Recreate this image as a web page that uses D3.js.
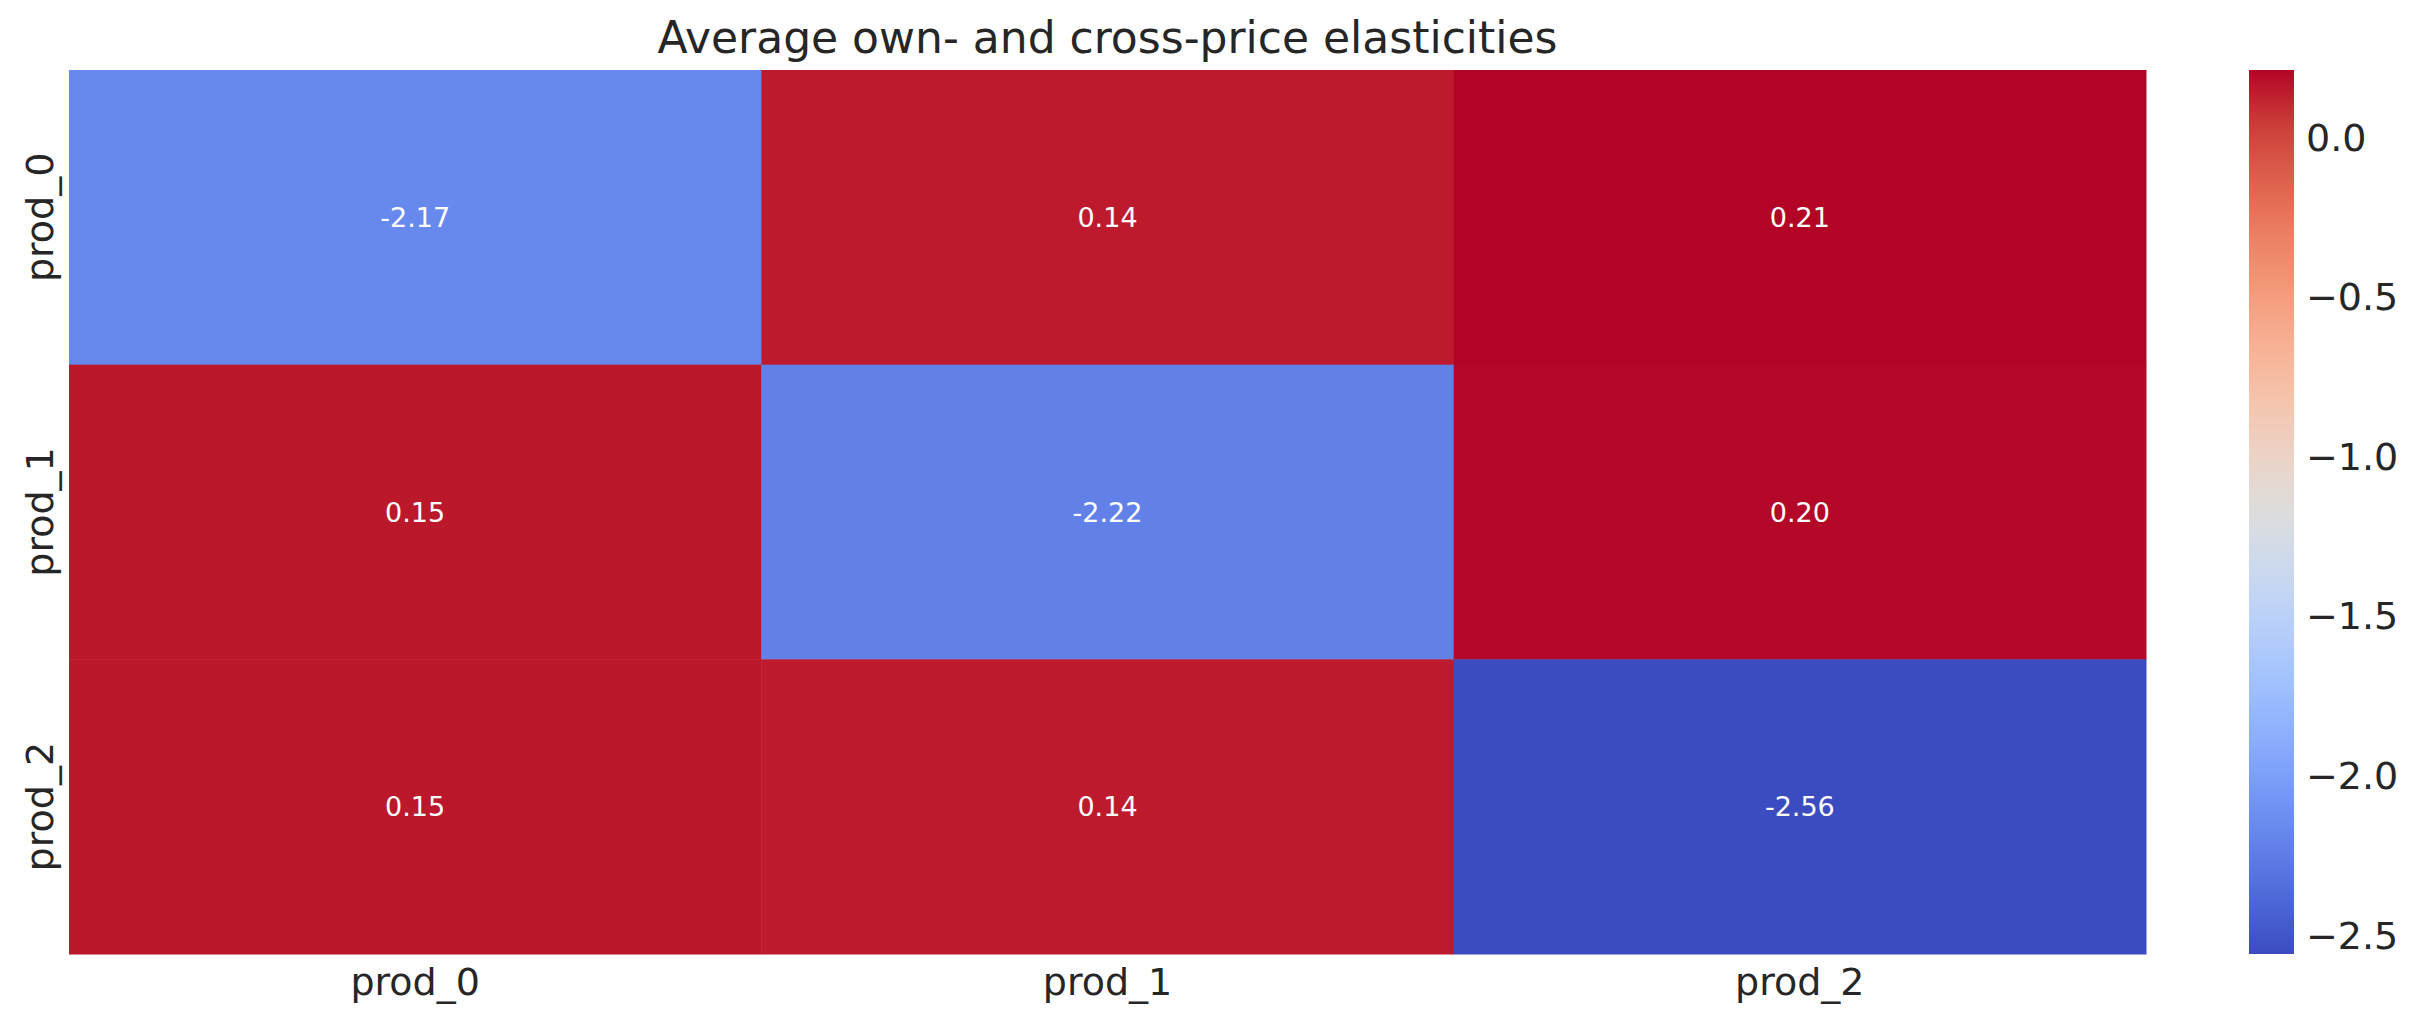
<!DOCTYPE html>
<html>
<head>
<meta charset="utf-8">
<script src="https://cdn.jsdelivr.net/npm/d3@7"></script>
<style>
    body { margin: 0; background: #fff; }
    text { font-family: "DejaVu Sans", sans-serif; }
</style>
</head>
<body>
<svg width="2417" height="1023"></svg>
<script>
// Data
const rows = ['prod_0', 'prod_1', 'prod_2']
const cols = ['prod_0', 'prod_1', 'prod_2']
const prod0 = [-2.17, 0.14, 0.21]
const prod1 = [0.15, -2.22, 0.20]
const prod2 = [0.15, 0.14, -2.56]
const colorbarTicks = [0.0, -0.5, -1.0, -1.5, -2.0, -2.5]
const title = 'Average own- and cross-price elasticities'

// matplotlib coolwarm, sampled every 1/16
const coolwarm = ['#3b4cc0', '#4d68d7', '#6282ea', '#779af7', '#8db0fe', '#a3c2fe',
    '#b8d0f9', '#ccd9ee', '#dddddd', '#ecd3c6', '#f5c4ad', '#f7b194', '#f49a7b',
    '#ec7f63', '#de604d', '#cb3e38', '#b40426']

const matrix = [prod0, prod1, prod2]
const cells = matrix.flatMap((vals, i) => vals.map((v, j) => ({ row: rows[i], col: cols[j], value: v })))

const vmin = d3.min(cells, d => d.value)
const vmax = d3.max(cells, d => d.value)

// Set up
const svg = d3.select('svg')
const plot = { left: 69, right: 2146, top: 70, bottom: 954 }

const x = d3.scaleBand().domain(cols).range([plot.left, plot.right])
const y = d3.scaleBand().domain(rows).range([plot.top, plot.bottom])

const t = d3.scaleLinear().domain([vmin, vmax]).range([0, 1])
const stopPos = coolwarm.map((c, i) => i / (coolwarm.length - 1))
const ramp = d3.scaleLinear().domain(stopPos).range(coolwarm).interpolate(d3.interpolateRgb)
const color = v => ramp(t(v))

// Cells
svg.append('g')
    .selectAll('rect')
    .data(cells)
    .join('rect')
    .attr('x', d => x(d.col))
    .attr('y', d => y(d.row))
    .attr('width', x.bandwidth() + 0.5)
    .attr('height', y.bandwidth() + 0.5)
    .attr('fill', d => color(d.value))

// annotations use a plain hyphen, like matplotlib's text
svg.append('g')
    .selectAll('text')
    .data(cells)
    .join('text')
    .attr('x', d => x(d.col) + x.bandwidth() / 2)
    .attr('y', d => y(d.row) + y.bandwidth() / 2)
    .attr('dy', '0.36em')
    .attr('text-anchor', 'middle')
    .style('font-size', '27px')
    .style('fill', '#fff')
    .text(d => d.value.toFixed(2))

// Axes labels
svg.append('g')
    .selectAll('text')
    .data(cols)
    .join('text')
    .attr('x', d => x(d) + x.bandwidth() / 2)
    .attr('y', 995)
    .attr('text-anchor', 'middle')
    .style('font-size', '38px')
    .style('fill', '#262626')
    .text(d => d)

svg.append('g')
    .selectAll('text')
    .data(rows)
    .join('text')
    .attr('transform', d => `translate(53,${y(d) + y.bandwidth() / 2}) rotate(-90)`)
    .attr('text-anchor', 'middle')
    .style('font-size', '38px')
    .style('fill', '#262626')
    .text(d => d)

svg.append('text')
    .attr('x', (plot.left + plot.right) / 2)
    .attr('y', 53)
    .attr('text-anchor', 'middle')
    .style('font-size', '44px')
    .style('fill', '#262626')
    .text(title)

// Colorbar
const cb = { left: 2249, width: 45 }
const cy = d3.scaleLinear().domain([vmin, vmax]).range([plot.bottom, plot.top])

const grad = svg.append('defs')
    .append('linearGradient')
    .attr('id', 'cbar')
    .attr('x1', 0).attr('y1', 1)
    .attr('x2', 0).attr('y2', 0)

grad.selectAll('stop')
    .data(d3.range(0, 1.0001, 1 / 64))
    .join('stop')
    .attr('offset', d => d)
    .attr('stop-color', d => ramp(d))

svg.append('rect')
    .attr('x', cb.left)
    .attr('y', plot.top)
    .attr('width', cb.width)
    .attr('height', plot.bottom - plot.top)
    .attr('fill', 'url(#cbar)')

svg.append('g')
    .selectAll('text')
    .data(colorbarTicks)
    .join('text')
    .attr('x', cb.left + cb.width + 12)
    .attr('y', d => cy(d))
    .attr('dy', '0.36em')
    .style('font-size', '38px')
    .style('fill', '#262626')
    .text(d => d3.format('.1f')(d))
</script>
</body>
</html>
